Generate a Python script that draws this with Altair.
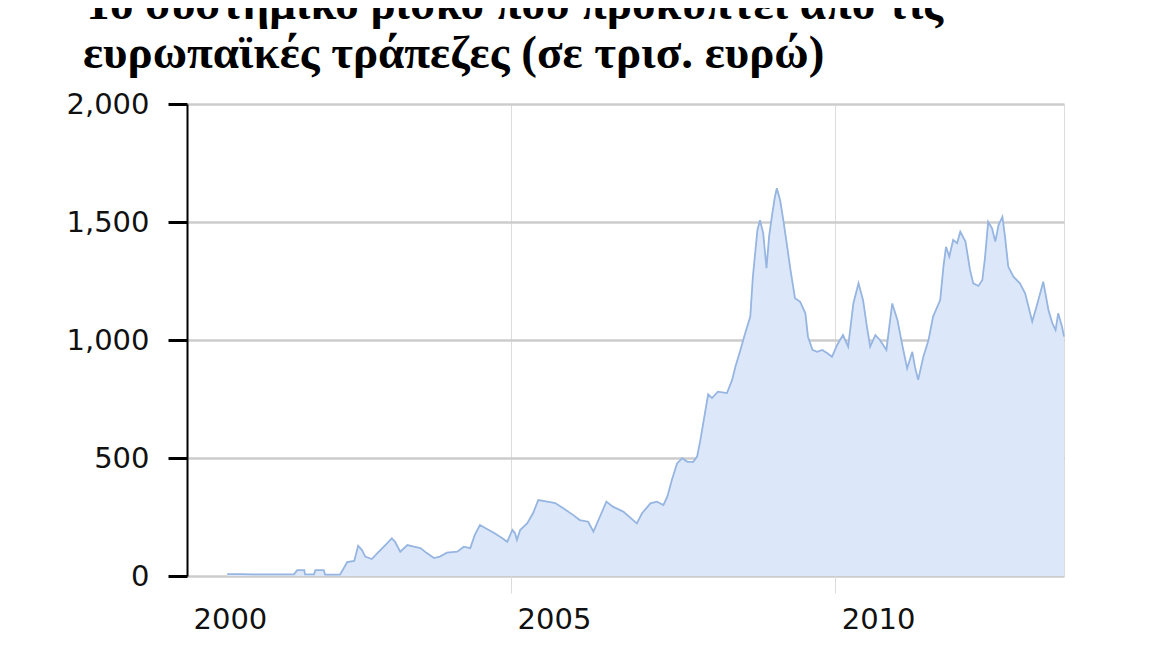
import altair as alt
import pandas as pd

# decimal years
years = [2000.62, 2000.85, 2001.00, 2001.65, 2001.70, 2001.81, 2001.82, 2001.96, 2001.98, 2002.11,
         2002.13, 2002.36, 2002.42, 2002.47, 2002.58, 2002.64, 2002.70, 2002.75, 2002.85, 2002.96,
         2003.06, 2003.16, 2003.21, 2003.29, 2003.40, 2003.50, 2003.60, 2003.70, 2003.81, 2003.90,
         2004.01, 2004.17, 2004.27, 2004.37, 2004.44, 2004.52, 2004.60, 2004.74, 2004.86, 2004.94,
         2005.02, 2005.06, 2005.09, 2005.14, 2005.25, 2005.34, 2005.42, 2005.56, 2005.68, 2005.80,
         2005.96, 2006.06, 2006.19, 2006.27, 2006.37, 2006.47, 2006.57, 2006.73, 2006.94, 2007.02,
         2007.15, 2007.25, 2007.35, 2007.41, 2007.48, 2007.56, 2007.64, 2007.72, 2007.81, 2007.87,
         2007.92, 2007.99, 2008.04, 2008.10, 2008.19, 2008.33, 2008.41, 2008.46, 2008.53, 2008.61,
         2008.69, 2008.73, 2008.80, 2008.84, 2008.89, 2008.94, 2008.98, 2009.03, 2009.07, 2009.10,
         2009.15, 2009.20, 2009.26, 2009.31, 2009.38, 2009.46, 2009.54, 2009.58, 2009.65, 2009.72,
         2009.80, 2009.88, 2009.95, 2010.03, 2010.12, 2010.20, 2010.28, 2010.36, 2010.43, 2010.49,
         2010.54, 2010.62, 2010.69, 2010.79, 2010.88, 2010.96, 2011.03, 2011.11, 2011.19, 2011.23,
         2011.28, 2011.36, 2011.44, 2011.51, 2011.62, 2011.67, 2011.71, 2011.76, 2011.82, 2011.88,
         2011.93, 2012.01, 2012.08, 2012.13, 2012.21, 2012.27, 2012.31, 2012.36, 2012.42, 2012.47,
         2012.52, 2012.58, 2012.62, 2012.67, 2012.75, 2012.85, 2012.93, 2013.04, 2013.12, 2013.21,
         2013.29, 2013.35, 2013.40, 2013.44, 2013.50, 2013.53]

risk = [8, 8, 7, 7, 25, 25, 7, 7, 25, 25,
        6, 6, 34, 59, 64, 128, 110, 82, 72, 103,
        131, 160, 145, 103, 131, 124, 118, 97, 76, 82,
        99, 103, 124, 118, 174, 216, 203, 182, 161, 145,
        195, 182, 153, 195, 224, 267, 322, 315, 309, 288,
        258, 237, 230, 188, 251, 315, 294, 273, 223, 266,
        308, 315, 301, 336, 407, 477, 499, 484, 484, 506,
        576, 689, 770, 754, 781, 775, 831, 887, 950, 1028,
        1099, 1268, 1466, 1508, 1452, 1304, 1438, 1537, 1607, 1643,
        1593, 1508, 1395, 1297, 1177, 1162, 1113, 1014, 958, 950,
        958, 944, 929, 979, 1021, 972, 1155, 1240, 1169, 1056,
        972, 1021, 1000, 958, 1155, 1085, 986, 880, 950, 887,
        831, 929, 1000, 1099, 1169, 1311, 1395, 1353, 1424, 1410,
        1459, 1417, 1297, 1240, 1229, 1254, 1346, 1501, 1473, 1417,
        1487, 1522, 1438, 1311, 1268, 1240, 1198, 1078, 1155, 1247,
        1127, 1071, 1042, 1113, 1056, 1014]

y_ticks = [0, 500, 1000, 1500, 2000]
x_ticks = [2000, 2005, 2010]
title_lines = ["Το συστημικό ρίσκο που προκύπτει από τις",
               "ευρωπαϊκές τράπεζες (σε τρισ. ευρώ)"]

df = pd.DataFrame({"year": years, "risk": risk})
title_df = pd.DataFrame({"t": ["\n".join(title_lines)]})

LABEL_FONT = "DejaVu Sans"

area = alt.Chart(df).mark_area(
    color="#dce8fa",
    fillOpacity=1,
    line={"color": "#96b5e0", "strokeWidth": 1.8},
).encode(
    x=alt.X("year:Q",
            scale=alt.Scale(domain=[2000, 2013.53], nice=False, zero=False),
            axis=alt.Axis(values=x_ticks, format="d", title=None,
                          domain=False, grid=True, gridColor="#dcdcdc", gridWidth=1,
                          ticks=True, tickColor="#dcdcdc", tickWidth=1, tickSize=17,
                          tickOpacity={"condition": {"test": "datum.value == 2000", "value": 0}, "value": 1},
                          labelAlign="left", labelBaseline="top", labelPadding=12,
                          labelOffset=6, labelFont=LABEL_FONT, labelFontSize=29,
                          labelColor="#111111")),
    y=alt.Y("risk:Q",
            scale=alt.Scale(domain=[0, 2000], nice=False),
            axis=alt.Axis(values=y_ticks, format=",.0f", title=None,
                          domain=True, domainColor="#000000", domainWidth=2,
                          grid=True, gridColor="#cccccc", gridWidth=2.5,
                          ticks=True, tickColor="#000000", tickWidth=3, tickSize=19,
                          labelPadding=19, labelFont=LABEL_FONT, labelFontSize=29,
                          labelColor="#111111", labelBaseline="middle")),
)

title = alt.Chart(title_df).mark_text(
    align="left",
    baseline="alphabetic",
    font="Liberation Serif",
    fontWeight="bold",
    fontSize=47,
    lineHeight=49,
    lineBreak="\n",
    color="#000000",
).encode(
    text="t:N",
    x=alt.value(-104),
    y=alt.value(-85),
)

chart = alt.layer(area, title).properties(
    width=877,
    height=472,
    padding={"left": 179, "top": 96, "right": 96, "bottom": 72},
    autosize=alt.AutoSizeParams(type="none"),
).configure_view(stroke=None).configure(background="white")

chart.save("out.html", embed_options={"renderer": "svg", "actions": False})
